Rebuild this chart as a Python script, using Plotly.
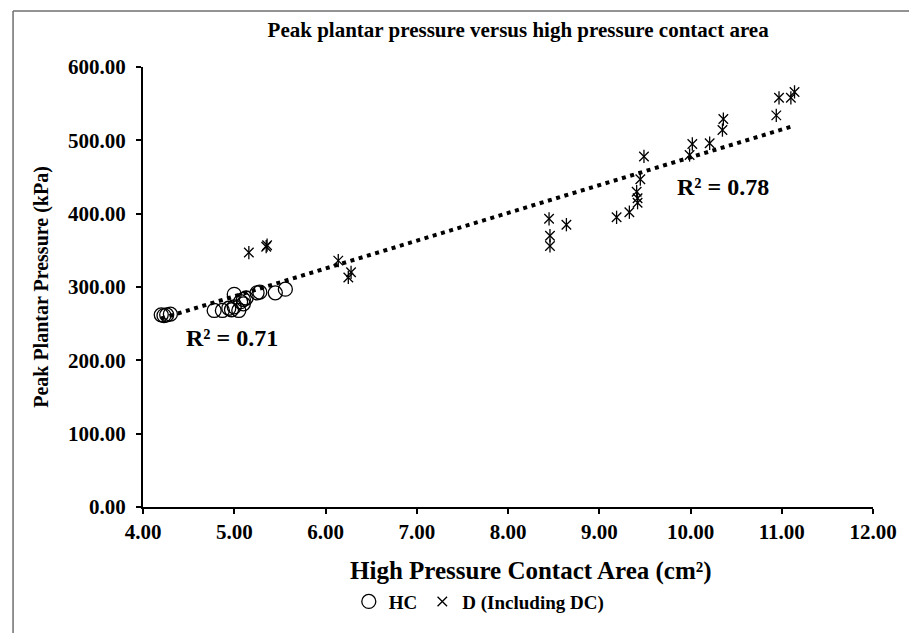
import plotly.graph_objects as go

# HC group (open circles)
hc_x = [4.20, 4.23, 4.26, 4.30, 4.78, 4.87, 4.94, 4.97, 5.00, 5.05, 5.00, 5.07, 5.10, 5.13, 5.10, 5.25, 5.28, 5.45, 5.56]
hc_y = [262, 261, 262, 263, 268, 268, 271, 269, 273, 268, 290, 280, 283, 285, 277, 292, 293, 292, 297]

# D group (including DC)
d_x = [5.16, 5.35, 5.36, 6.14, 6.25, 6.28, 8.45, 8.46, 8.46, 8.64, 9.19, 9.33, 9.42, 9.42, 9.41,
       9.45, 9.49, 9.99, 10.02, 10.21, 10.35, 10.36, 10.94, 10.97, 11.10, 11.14]
d_y = [347, 355, 357, 336, 313, 320, 393, 370, 356, 385, 395, 402, 415, 421, 430,
       447, 478, 480, 495, 496, 514, 529, 534, 558, 558, 566]

# Trendline end points
trend_x = [4.20, 11.14]
trend_y = [257, 520]

x_ticks = [4, 5, 6, 7, 8, 9, 10, 11, 12]
y_ticks = [0, 100, 200, 300, 400, 500, 600]

FONT = "Liberation Serif, Times New Roman, serif"

def bf(size):
    return dict(size=size, family=FONT, color="black", weight="bold")

fig = go.Figure()
fig.add_trace(go.Scatter(
    x=trend_x, y=trend_y, mode="lines",
    line=dict(color="black", width=4, dash="4px,4.6px"),
    showlegend=False, hoverinfo="skip"))
fig.add_trace(go.Scatter(
    x=hc_x, y=hc_y, mode="markers", name="HC",
    marker=dict(symbol="circle-open", size=14, color="black", line=dict(width=1.3, color="black"))))
fig.add_trace(go.Scatter(
    x=d_x, y=d_y, mode="markers", name="D (Including DC)",
    marker=dict(symbol="x-thin-open", size=9.5, color="black", line=dict(width=1.3, color="black"))))
fig.add_trace(go.Scatter(
    x=d_x, y=d_y, mode="markers", showlegend=False,
    marker=dict(symbol="line-ns-open", size=9.5, color="black", line=dict(width=1.3, color="black"))))

fig.update_layout(
    width=909, height=633,
    margin=dict(l=143, r=36, t=67, b=124),
    paper_bgcolor="white", plot_bgcolor="white",
    font=dict(family=FONT, color="black"),
    title=dict(text="Peak plantar pressure versus high pressure contact area",
               x=0.57, xanchor="center", y=1 - 30 / 633, yanchor="middle",
               font=bf(21)),
    xaxis=dict(range=[4, 12], tickvals=x_ticks, tickformat=".2f",
               showgrid=False, zeroline=False, showline=True, linecolor="black", linewidth=2,
               ticks="outside", ticklen=5, tickwidth=2, tickcolor="black",
               tickfont=bf(21)),
    yaxis=dict(range=[0, 600], tickvals=y_ticks, tickformat=".2f",
               showgrid=False, zeroline=False, showline=True, linecolor="black", linewidth=2,
               ticks="outside", ticklen=5, tickwidth=2, tickcolor="black",
               tickfont=bf(21), ticklabelstandoff=6,
               title=dict(text="Peak Plantar Pressure (kPa)", standoff=14,
                          font=bf(20))),
    legend=dict(orientation="h", x=0.46, xanchor="center", y=-0.215, yanchor="middle",
                font=bf(19),
                itemwidth=30, tracegroupgap=0, bgcolor="rgba(0,0,0,0)"),
    annotations=[
        dict(x=0.531, y=573, xref="paper", yref="paper", yanchor="middle", xanchor="center",
             text="High Pressure Contact Area (cm²)", showarrow=False, font=bf(25)),
        dict(x=4.97, y=230, xref="x", yref="y", text="R² = 0.71", showarrow=False,
             font=bf(24)),
        dict(x=10.36, y=436, xref="x", yref="y", text="R² = 0.78", showarrow=False,
             font=bf(24)),
    ],
    shapes=[
        dict(type="line", xref="paper", yref="paper", x0=-0.178, x1=-0.178, y0=-0.3, y1=1.127,
             line=dict(color="#6f6f6f", width=1.5)),
        dict(type="line", xref="paper", yref="paper", x0=-0.178, x1=1.06, y0=1.127, y1=1.127,
             line=dict(color="#6f6f6f", width=1.5)),
    ],
)
# place x-axis title annotation at pixel row 573 (convert to paper coords)
fig.layout.annotations[0].y = (509 - 573) / 442

fig.write_html("out.html")
